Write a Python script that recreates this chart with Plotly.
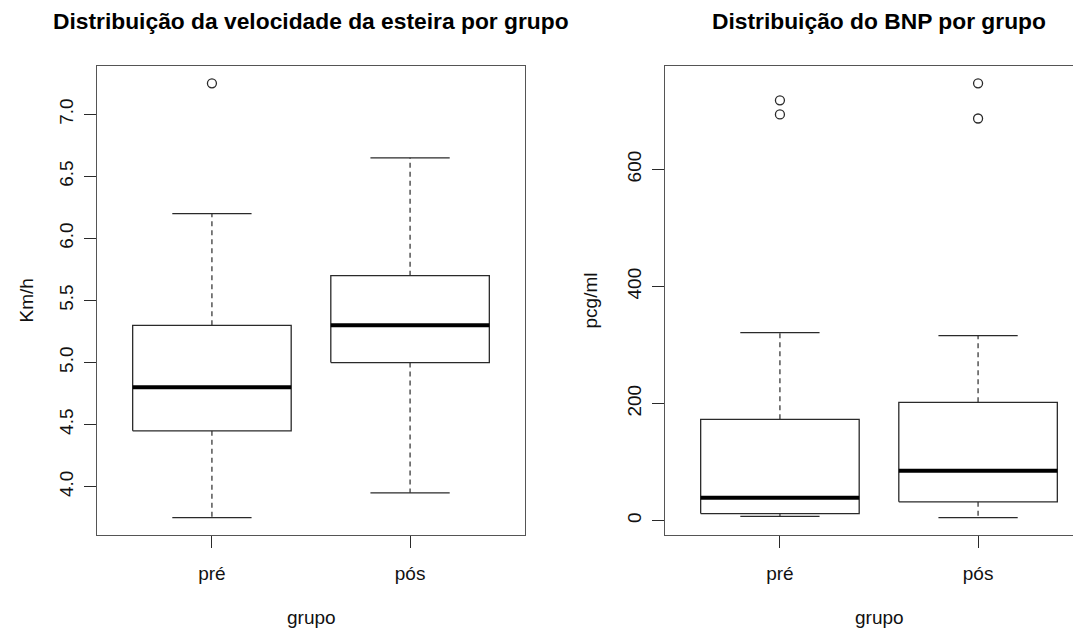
import plotly.graph_objects as go

# ---------------- data ----------------
grupos = ["pré", "pós"]

vel_low = [3.75, 3.95]
vel_q1 = [4.45, 5.0]
vel_med = [4.8, 5.3]
vel_q3 = [5.3, 5.7]
vel_high = [6.2, 6.65]
vel_out = [[7.25], []]

bnp_low = [7, 5]
bnp_q1 = [12, 32]
bnp_med = [39, 85]
bnp_q3 = [173, 202]
bnp_high = [321, 316]
bnp_out = [[718, 694], [747, 687]]

vel_ticks = [4.0, 4.5, 5.0, 5.5, 6.0, 6.5, 7.0]
bnp_ticks = [0, 200, 400, 600]

# ---------------- styling ----------------
PAGE_W, PAGE_H = 1081, 629
OFF = 8                      # default page body margin
W, H = PAGE_W - OFF, PAGE_H - OFF
FONT = "Liberation Sans, Arial, Helvetica, sans-serif"
LINE = "#2a2a2a"
FRAME = "#555555"
BOXW = 0.8
STAPLE = 0.4

fig = go.Figure()


def add_boxes(xa, ya, low, q1, med, q3, high, outs):
    for i in range(len(grupos)):
        x = i + 1
        # whiskers (dashed)
        for a, b in ((q3[i], high[i]), (q1[i], low[i])):
            fig.add_trace(go.Scatter(x=[x, x], y=[a, b], mode="lines",
                                     line=dict(color=LINE, width=1.2, dash="5px,4px"),
                                     xaxis=xa, yaxis=ya, showlegend=False, hoverinfo="skip"))
        # staples
        for v in (high[i], low[i]):
            fig.add_trace(go.Scatter(x=[x - STAPLE / 2, x + STAPLE / 2], y=[v, v], mode="lines",
                                     line=dict(color=LINE, width=1.3),
                                     xaxis=xa, yaxis=ya, showlegend=False, hoverinfo="skip"))
        # box
        x0, x1 = x - BOXW / 2, x + BOXW / 2
        fig.add_trace(go.Scatter(x=[x0, x1, x1, x0, x0], y=[q1[i], q1[i], q3[i], q3[i], q1[i]],
                                 mode="lines", line=dict(color=LINE, width=1.3),
                                 fill="toself", fillcolor="white",
                                 xaxis=xa, yaxis=ya, showlegend=False, hoverinfo="skip"))
        # median
        fig.add_trace(go.Scatter(x=[x0, x1], y=[med[i], med[i]], mode="lines",
                                 line=dict(color="black", width=4),
                                 xaxis=xa, yaxis=ya, showlegend=False, hoverinfo="skip"))
        # outliers
        if outs[i]:
            fig.add_trace(go.Scatter(x=[x] * len(outs[i]), y=outs[i], mode="markers",
                                     marker=dict(symbol="circle-open", size=9,
                                                 line=dict(color=LINE, width=1.3), color=LINE),
                                     xaxis=xa, yaxis=ya, showlegend=False, hoverinfo="skip"))


add_boxes("x", "y", vel_low, vel_q1, vel_med, vel_q3, vel_high, vel_out)
add_boxes("x2", "y2", bnp_low, bnp_q1, bnp_med, bnp_q3, bnp_high, bnp_out)


def r_range(vals):
    lo, hi = min(vals), max(vals)
    d = (hi - lo) * 0.04
    return [lo - d, hi + d]


vel_all = vel_low + vel_high + [v for o in vel_out for v in o]
bnp_all = bnp_low + bnp_high + [v for o in bnp_out for v in o]

# pixel geometry of the plot regions (page pixels), converted to figure pixels
L1, R1 = 97 - OFF, 525 - OFF
L2, R2 = 665 - OFF, 1093 - OFF      # right panel extends past the window edge
TOP, BOT = 66 - OFF, 535 - OFF
xr = [0.42, 2.58]
x2_end = xr[0] + (xr[1] - xr[0]) * (W - L2) / (R2 - L2)

axis_common = dict(showgrid=False, zeroline=False, showline=True, linecolor=FRAME, linewidth=1.3,
                   ticks="outside", ticklen=12, tickwidth=1.3, tickcolor=LINE, automargin=False,
                   tickfont=dict(family=FONT, size=19, color="#111"))

ydom = [(H - BOT) / H, (H - TOP) / H]

fig.update_layout(
    width=W, height=H,
    margin=dict(l=0, r=0, t=0, b=0),
    paper_bgcolor="white", plot_bgcolor="white",
    xaxis=dict(domain=[L1 / W, R1 / W], range=xr, tickvals=[1, 2], ticktext=grupos,
               mirror=True, ticklabelstandoff=9, anchor="y", **axis_common),
    yaxis=dict(domain=ydom, range=r_range(vel_all), tickvals=vel_ticks,
               tickformat=".1f", tickangle=-90, mirror=True, ticklabelstandoff=3,
               anchor="x", **axis_common),
    xaxis2=dict(domain=[L2 / W, 1.0], range=[xr[0], x2_end], tickvals=[1, 2], ticktext=grupos,
                mirror=True, ticklabelstandoff=9, anchor="y2", **axis_common),
    yaxis2=dict(domain=ydom, range=r_range(bnp_all), tickvals=bnp_ticks,
                tickangle=-90, mirror=False, ticklabelstandoff=3, anchor="x2", **axis_common),
)


def px_x(p):
    return (p - OFF) / W


def px_y(p):
    return 1 - (p - OFF) / H


ann = []
titles = [("Distribuição da velocidade da esteira por grupo", (97 + 525) / 2),
          ("Distribuição do BNP por grupo", (665 + 1093) / 2)]
for t, cx in titles:
    ann.append(dict(text="<b>%s</b>" % t, x=px_x(cx), y=px_y(21), xref="paper", yref="paper",
                    xanchor="center", yanchor="middle", showarrow=False,
                    font=dict(family=FONT, size=22.8, color="black")))
for cx in ((97 + 525) / 2, (665 + 1093) / 2):
    ann.append(dict(text="grupo", x=px_x(cx), y=px_y(617), xref="paper", yref="paper",
                    xanchor="center", yanchor="middle", showarrow=False,
                    font=dict(family=FONT, size=19, color="#111")))
for t, px in (("Km/h", 26), ("pcg/ml", 590)):
    ann.append(dict(text=t, x=px_x(px), y=px_y((66 + 535) / 2), xref="paper", yref="paper",
                    xanchor="center", yanchor="middle", textangle=-90, showarrow=False,
                    font=dict(family=FONT, size=19, color="#111")))
fig.update_layout(annotations=ann)

fig.write_html("out.html")
